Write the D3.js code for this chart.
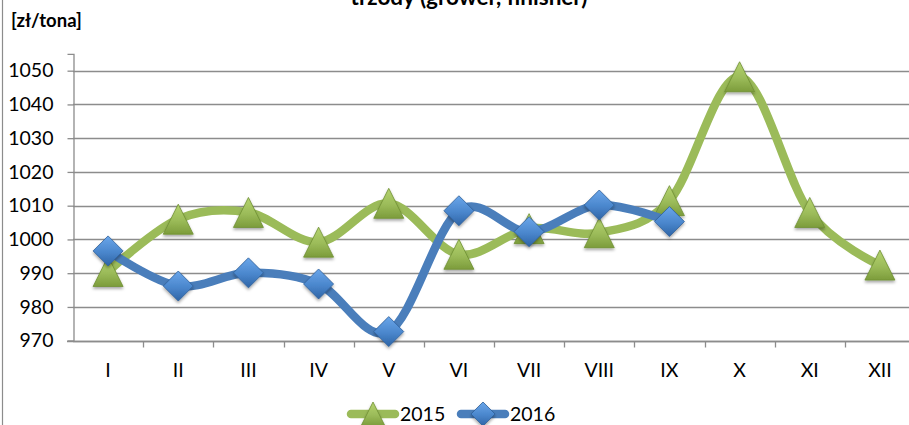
<!DOCTYPE html>
<html><head><meta charset="utf-8">
<script src="https://cdn.jsdelivr.net/npm/d3@7"></script>
<style>
html,body{margin:0;padding:0;background:#fff;}
svg{display:block;font-family:Lato,"Open Sans",sans-serif;}
</style></head>
<body>
<svg id="c" width="909" height="425"></svg>
<script>
const categories = ["I","II","III","IV","V","VI","VII","VIII","IX","X","XI","XII"];
const values2015 = [990.5, 1006, 1008, 999.2, 1010.7, 995.6, 1003.2, 1002, 1011.5, 1048.2, 1008, 992.4];
const values2016 = [996.6, 986.2, 990.1, 986.8, 972.7, 1008.5, 1002.3, 1010.2, 1005.3];
const yTicks = [970, 980, 990, 1000, 1010, 1020, 1030, 1040, 1050];
const seriesNames = ["2015", "2016"];
const titleText = "trzody (grower, finisher)";
const unitText = "[zł/tona]";

const svg = d3.select("#c");
const defs = svg.append("defs");

const gG = defs.append("linearGradient").attr("id","gGreen").attr("x1",0).attr("y1",0).attr("x2",0).attr("y2",1);
gG.append("stop").attr("offset","0%").attr("stop-color","#b5d36f");
gG.append("stop").attr("offset","55%").attr("stop-color","#9bbb59");
gG.append("stop").attr("offset","100%").attr("stop-color","#7c9c3b");
const gB = defs.append("linearGradient").attr("id","gBlue").attr("x1",0).attr("y1",0).attr("x2",0).attr("y2",1);
gB.append("stop").attr("offset","0%").attr("stop-color","#6aa6ea");
gB.append("stop").attr("offset","55%").attr("stop-color","#4a86cc");
gB.append("stop").attr("offset","100%").attr("stop-color","#2e64a6");
const sh = defs.append("filter").attr("id","shadow").attr("x","-50%").attr("y","-50%").attr("width","200%").attr("height","200%");
sh.append("feDropShadow").attr("dx",0).attr("dy",2).attr("stdDeviation",1.5).attr("flood-color","#000").attr("flood-opacity",0.35);

const x = d3.scaleBand().domain(categories).range([73, 915]).padding(0);
const y = d3.scaleLinear().domain([970, 1055]).range([340.7, 53.8]);

// outer border (left)
svg.append("line").attr("x1",2.5).attr("x2",2.5).attr("y1",0).attr("y2",425).attr("stroke","#8c8c8c").attr("stroke-width",1.2);

// title & unit
svg.append("text").attr("x",469).attr("y",5).attr("text-anchor","middle")
  .attr("font-weight","bold").attr("font-size",22.5).attr("fill","#000").text(titleText);
svg.append("text").attr("x",11).attr("y",27).attr("font-weight","bold").attr("font-size",18.5).attr("fill","#000").text(unitText);

// gridlines
svg.append("g").selectAll("line").data(yTicks).join("line")
  .attr("x1",73).attr("x2",915).attr("y1",d=>Math.round(y(d))+0.5).attr("y2",d=>Math.round(y(d))+0.5)
  .attr("stroke","#8c8c8c").attr("stroke-width",1.3);

// y axis
const yAxis = d3.axisLeft(y).tickValues(yTicks).tickSize(6).tickPadding(14).tickFormat(d3.format("d"));
const ya = svg.append("g").attr("transform","translate(73.5,0)").call(yAxis);
ya.select(".domain").attr("stroke","#8c8c8c").attr("stroke-width",1.3);
ya.selectAll(".tick line").attr("stroke","#8c8c8c").attr("stroke-width",1.3);
ya.selectAll(".tick text").attr("font-size",19.5).attr("font-family","Lato").attr("fill","#000");

// x axis
const xAxis = d3.axisBottom(x).tickSize(0).tickPadding(22);
const xa = svg.append("g").attr("transform","translate(0,"+(Math.round(y(970))+0.5)+")").call(xAxis);
xa.select(".domain").attr("stroke","#8c8c8c").attr("stroke-width",1.3).attr("d","M67,0H915");
xa.selectAll(".tick text").attr("font-size",19.5).attr("font-family","Lato").attr("fill","#000");
// category boundary ticks
xa.append("g").selectAll("line").data(categories.slice(1)).join("line")
  .attr("x1",d=>Math.round(x(d))+0.5).attr("x2",d=>Math.round(x(d))+0.5).attr("y1",0).attr("y2",6)
  .attr("stroke","#8c8c8c").attr("stroke-width",1.3);

const line = d3.line().x((d,i)=>x(categories[i])+x.bandwidth()/2).y(d=>y(d)).curve(d3.curveCardinal.tension(0));

function triPath(s){ return `M0,${-s/2}L${s/2},${s/2}L${-s/2},${s/2}Z`; }
function diaPath(s){ return `M0,${-s/2}L${s/2},0L0,${s/2}L${-s/2},0Z`; }

function drawSeries(vals, color, grad, stroke, pathFn){
  svg.append("path").datum(vals).attr("d",line).attr("fill","none")
    .attr("stroke",color).attr("stroke-width",8.5).attr("stroke-linecap","round").attr("stroke-linejoin","round");
  svg.append("g").selectAll("path").data(vals).join("path")
    .attr("transform",(d,i)=>`translate(${x(categories[i])+x.bandwidth()/2},${y(d)})`)
    .attr("d",pathFn(30)).attr("fill",`url(#${grad})`).attr("stroke",stroke).attr("stroke-width",0.8)
    .attr("filter","url(#shadow)");
}
drawSeries(values2015, "#9bbb59", "gGreen", "#6f8f32", triPath);
drawSeries(values2016, "#4a7ebb", "gBlue", "#2f5f99", diaPath);

// legend
const leg = svg.append("g");
const legItems = [
  {name:seriesNames[0], color:"#9bbb59", grad:"gGreen", stroke:"#6f8f32", fn:triPath, x0:348},
  {name:seriesNames[1], color:"#4a7ebb", grad:"gBlue", stroke:"#2f5f99", fn:diaPath, x0:458}
];
legItems.forEach(it=>{
  leg.append("line").attr("x1",it.x0+3).attr("x2",it.x0+47).attr("y1",414).attr("y2",414)
    .attr("stroke",it.color).attr("stroke-width",8.5).attr("stroke-linecap","round");
  leg.append("path").attr("transform",`translate(${it.x0+25},414)`).attr("d",it.fn(24))
    .attr("fill",`url(#${it.grad})`).attr("stroke",it.stroke).attr("stroke-width",0.8).attr("filter","url(#shadow)");
  leg.append("text").attr("x",it.x0+52).attr("y",421).attr("font-size",19.5).attr("fill","#000").text(it.name);
});
</script>
</body></html>
